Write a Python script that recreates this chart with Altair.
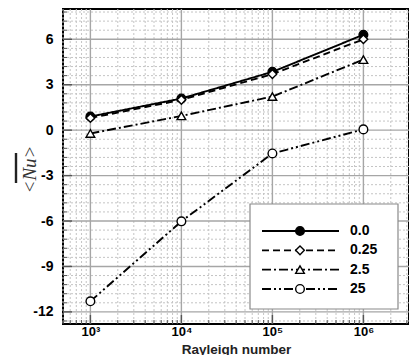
import altair as alt
import pandas as pd

# ---- data ----
rayleigh = [1e3, 1e4, 1e5, 1e6]
series_names = ["0.0", "0.25", "2.5", "25"]
nu_0_0 = [0.90, 2.09, 3.85, 6.30]
nu_0_25 = [0.80, 2.00, 3.70, 6.00]
nu_2_5 = [-0.22, 0.94, 2.22, 4.66]
nu_25 = [-11.30, -6.02, -1.54, 0.05]

x_major = [1e3, 1e4, 1e5, 1e6]
x_labels = ["10³", "10⁴", "10⁵", "10⁶"]
x_minor = [k * 10 ** e for e in range(2, 7) for k in range(2, 10)
           if 500 <= k * 10 ** e <= 3.2e6]
y_major = [-12, -9, -6, -3, 0, 3, 6]
y_minor = [round(k * 0.6, 1) for k in range(-21, 14) if k % 5]

rows = []
for name, vals in zip(series_names, [nu_0_0, nu_0_25, nu_2_5, nu_25]):
    for r, v in zip(rayleigh, vals):
        rows.append({"ra": r, "nu": v, "series": name})
df = pd.DataFrame(rows)
leg_df = pd.DataFrame({"series": series_names})

W, H = 346, 315
xscale = alt.Scale(type="log", domain=[500, 3.17e6], nice=False)
yscale = alt.Scale(domain=[-12.8, 8], nice=False, zero=False)

font = "Liberation Sans"
label_expr = "{" + ", ".join(
    f"'{int(v)}': '{t}'" for v, t in zip(x_major, x_labels)) + "}[format(datum.value, 'd')]"

dash_scale = alt.Scale(domain=series_names,
                       range=[[1, 0], [7, 4], [9, 3, 2, 3], [9, 3, 2, 3, 2, 3]])
shape_scale = alt.Scale(domain=series_names,
                        range=["circle", "diamond", "triangle-up", "circle"])
fill_scale = alt.Scale(domain=series_names,
                       range=["black", "white", "white", "white"])


def vdf(vals):
    return pd.DataFrame({"v": vals})


xaxis = alt.Axis(values=x_major, labelExpr=label_expr, grid=False, ticks=False,
                 domain=False, labelPadding=1, labelFont=font, labelFontSize=13,
                 labelFontWeight="bold", labelColor="black",
                 title="Rayleigh number", titleFont=font, titleFontSize=13.5,
                 titleFontWeight="bold", titleColor="#222", titleY=29,
                 titleBaseline="alphabetic")
yaxis = alt.Axis(values=y_major,
                 labelExpr="datum.value < 0 ? '-' + abs(datum.value) : '' + datum.value",
                 grid=False, ticks=False, domain=False,
                 labelPadding=10, labelFont=font, labelFontSize=14,
                 labelFontWeight="bold", labelColor="black",
                 title="<Nu>", titleFont="Liberation Serif", titleFontSize=19,
                 titleFontWeight="normal", titleFontStyle="italic", titleColor="#333",
                 titleX=-34, titleY=160, titleAlign="center", titleBaseline="middle",
                 titleAngle=270)

X = lambda f: alt.X(f, scale=xscale, axis=xaxis)
Y = lambda f: alt.Y(f, scale=yscale, axis=yaxis)

minor_x = alt.Chart(vdf(x_minor)).mark_rule(
    color="#c4c4c4", strokeWidth=1, strokeDash=[2, 2]).encode(x=X("v:Q"))
minor_y = alt.Chart(vdf(y_minor)).mark_rule(
    color="#c4c4c4", strokeWidth=1, strokeDash=[2, 2]).encode(y=Y("v:Q"))
major_x = alt.Chart(vdf(x_major)).mark_rule(
    color="#a6a6a6", strokeWidth=1.4).encode(x=X("v:Q"))
major_y = alt.Chart(vdf(y_major)).mark_rule(
    color="#a6a6a6", strokeWidth=1.4).encode(y=Y("v:Q"))

tick_y_major = alt.Chart(vdf(y_major)).mark_rule(color="#555", strokeWidth=1.4).encode(
    y=Y("v:Q"), x=alt.value(0), x2=alt.value(9))
tick_y_minor = alt.Chart(vdf(y_minor)).mark_rule(color="#555", strokeWidth=1).encode(
    y=Y("v:Q"), x=alt.value(0), x2=alt.value(4))
tick_x_major = alt.Chart(vdf(x_major)).mark_rule(color="#555", strokeWidth=1.4).encode(
    x=X("v:Q"), y=alt.value(H), y2=alt.value(H - 9))
tick_x_minor = alt.Chart(vdf(x_minor)).mark_rule(color="#555", strokeWidth=1).encode(
    x=X("v:Q"), y=alt.value(H), y2=alt.value(H - 4))

lines = alt.Chart(df).mark_line(color="black", strokeWidth=1.9).encode(
    x=X("ra:Q"), y=Y("nu:Q"),
    strokeDash=alt.StrokeDash("series:N", scale=dash_scale, legend=None),
    detail="series:N",
)
points = alt.Chart(df).mark_point(size=75, strokeWidth=1.4, stroke="black",
                                  opacity=1, filled=True).encode(
    x=X("ra:Q"), y=Y("nu:Q"),
    shape=alt.Shape("series:N", scale=shape_scale, legend=None),
    fill=alt.Fill("series:N", scale=fill_scale, legend=None),
)

main = alt.layer(
    minor_x, minor_y, major_x, major_y,
    tick_y_minor, tick_y_major, tick_x_minor, tick_x_major,
    lines, points,
)

# ---- hand-built legend (own y scale: one row per series) ----
one = pd.DataFrame({"a": [0]})
row_y = alt.Y("series:N", scale=alt.Scale(type="point", domain=series_names,
                                          range=[222, 280], padding=0), axis=None)
box = alt.Chart(one).mark_rect(
    fill="white", stroke="#8a8a8a", strokeWidth=1.2
).encode(x=alt.value(187), x2=alt.value(335), y=alt.value(195), y2=alt.value(300))
leg_lines = alt.Chart(leg_df).mark_rule(color="black", strokeWidth=1.8).encode(
    y=row_y, x=alt.value(199), x2=alt.value(276),
    strokeDash=alt.StrokeDash("series:N", scale=dash_scale, legend=None),
)
leg_points = alt.Chart(leg_df).mark_point(size=75, strokeWidth=1.4, stroke="black",
                                          opacity=1, filled=True).encode(
    y=row_y, x=alt.value(237),
    shape=alt.Shape("series:N", scale=shape_scale, legend=None),
    fill=alt.Fill("series:N", scale=fill_scale, legend=None),
)
leg_text = alt.Chart(leg_df).mark_text(
    align="left", baseline="middle", font=font, fontSize=14, fontWeight="bold",
    color="black"
).encode(y=row_y, x=alt.value(287), text="series:N")
# overline of the y-axis title
title_bar = alt.Chart(one).mark_rule(color="#222", strokeWidth=2.4).encode(
    x=alt.value(-47), y=alt.value(144), y2=alt.value(174))

legend = alt.layer(box, leg_lines, leg_points, leg_text, title_bar)

chart = alt.layer(main, legend).resolve_scale(y="independent").properties(
    width=W, height=H,
    autosize=alt.AutoSizeParams(type="none"),
    padding={"left": 55, "top": 1, "right": 0, "bottom": 31},
    background="white",
).configure_view(stroke="black", strokeWidth=2)

chart.save("out.html", embed_options={"renderer": "svg", "actions": False})
